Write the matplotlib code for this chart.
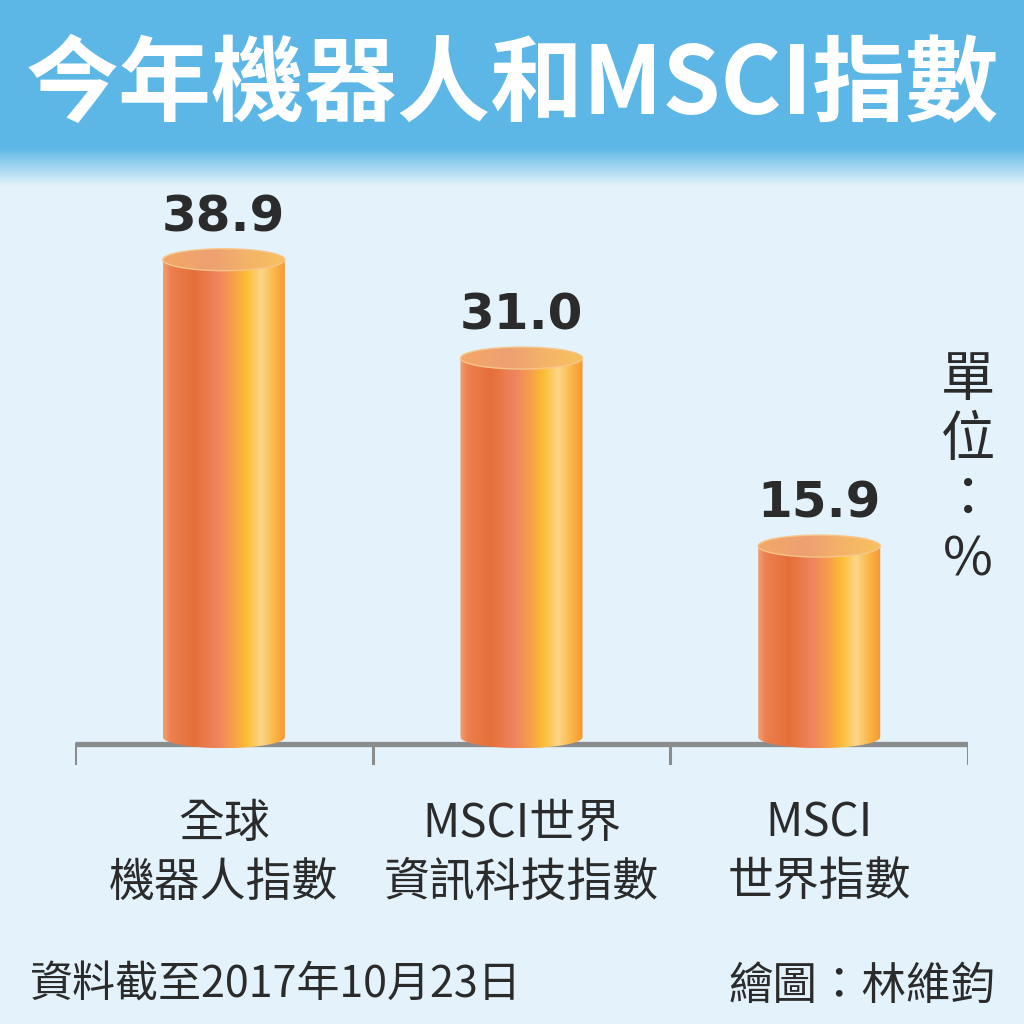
import numpy as np
import matplotlib
matplotlib.use('Agg')
import matplotlib.pyplot as plt
from matplotlib.colors import LinearSegmentedColormap, to_rgb
from matplotlib.patches import Ellipse, PathPatch
from matplotlib.path import Path

plt.rcParams['font.family'] = ['Noto Sans CJK TC', 'DejaVu Sans']

# data
categories = ['全球\n機器人指數', 'MSCI世界\n資訊科技指數', 'MSCI\n世界指數']
values = [38.9, 31.0, 15.9]
value_labels = ['38.9', '31.0', '15.9']
title = '今年機器人和MSCI指數'
unit = '單位：%'
note = '資料截至2017年10月23日'
credit = '繪圖：林維鈞'

bg = '#e3f2fb'
banner = '#5cb7e6'
dark = '#2b2b2b'

fig = plt.figure(figsize=(10.24, 10.24), dpi=100)
fig.patch.set_facecolor(bg)

# title banner with soft fade at the bottom
bax = fig.add_axes([0, 1 - 190 / 1024, 1, 190 / 1024])
bax.axis('off')
rows = np.linspace(0, 1, 190)
c1 = np.array(to_rgb(banner))
c2 = np.array(to_rgb(bg))
t = np.clip((rows * 190 - 148) / 38, 0, 1)[:, None]
grad = c1 * (1 - t) + c2 * t
bax.imshow(np.repeat(grad[:, None, :], 4, axis=1), aspect='auto', extent=[0, 1, 0, 1])
fig.text(0.5, 1 - 86 / 1024, title, color='white', fontsize=67, fontweight='black',
         ha='center', va='center')

# main axes: value 0 sits on the axis line
k = 12.45  # px per unit
y_lo, y_hi = -3, 52
base_px = 744
ax_bottom = 1 - (base_px - y_lo * k) / 1024
ax_height = (y_hi - y_lo) * k / 1024
ax = fig.add_axes([75 / 1024, ax_bottom, 893 / 1024, ax_height])
ax.set_xlim(-0.5, 2.5)
ax.set_ylim(y_lo, y_hi)
ax.axis('off')

body_cmap = LinearSegmentedColormap.from_list('body', [
    (0.0, '#f2a070'), (0.06, '#ec8050'), (0.25, '#e56f38'), (0.45, '#ef8560'),
    (0.58, '#f7a048'), (0.68, '#fdbd34'), (0.8, '#fcd68a'), (0.9, '#fbb84a'),
    (1.0, '#f7962e')])
top_cmap = LinearSegmentedColormap.from_list('top', [
    (0.0, '#f3a868'), (0.4, '#eea072'), (0.7, '#f4b468'), (1.0, '#f8c25e')])

w = 0.41
eh = 0.88
bottom_c = 0.55
xs = np.arange(len(values))
gradient = np.linspace(0, 1, 256)[None, :]

# axis line with ticks
ax.plot([-0.5, 2.5], [0, 0], color='#8a8c8e', lw=3.8, solid_capstyle='butt', zorder=1)
for tx in np.arange(-0.5, 3.0, 1.0):
    ax.plot([tx, tx], [0, -1.55], color='#8a8c8e', lw=2.2, zorder=1)

th = np.linspace(np.pi, 2 * np.pi, 60)
for x, v, lab, cat in zip(xs, values, value_labels, categories):
    # body: rectangle with rounded bottom
    bx = x + w / 2 * np.cos(th)
    by = bottom_c + eh * np.sin(th)
    verts = list(zip(bx, by)) + [(x + w / 2, v), (x - w / 2, v), (bx[0], by[0])]
    clip = PathPatch(Path(verts, closed=False), transform=ax.transData)
    im = ax.imshow(gradient, cmap=body_cmap, aspect='auto', zorder=2,
                   extent=[x - w / 2, x + w / 2, bottom_c - eh, v])
    im.set_clip_path(clip)
    # top face
    ell = Ellipse((x, v), w, 2 * eh, transform=ax.transData)
    im2 = ax.imshow(gradient, cmap=top_cmap, aspect='auto', zorder=3,
                    extent=[x - w / 2, x + w / 2, v - eh, v + eh])
    im2.set_clip_path(ell)
    ax.add_patch(Ellipse((x, v), w, 2 * eh, fill=False, ec='#f7c58a', lw=1.0, zorder=4))
    # value label
    ax.text(x, v + 2.3, lab, ha='center', va='baseline', fontsize=36,
            fontweight='bold', color=dark, family=['DejaVu Sans'], zorder=5)
    # category label
    for j, line in enumerate(cat.split('\n')):
        ax.text(x, -6.4 - j * 4.7, line, ha='center', va='center', fontsize=33,
                fontweight='medium', color=dark, clip_on=False)

# vertical unit label
for j, ch in enumerate(unit):
    fig.text(968 / 1024, 1 - (380 + j * 60) / 1024, ch, ha='center', va='center',
             fontsize=39, fontweight='light', color=dark)

fig.text(30 / 1024, 1 - 986 / 1024, note, ha='left', va='center', fontsize=31, color=dark)
fig.text(995 / 1024, 1 - 986 / 1024, credit, ha='right', va='center', fontsize=32, color=dark)

fig.savefig('out.png', dpi=100, facecolor=bg)
